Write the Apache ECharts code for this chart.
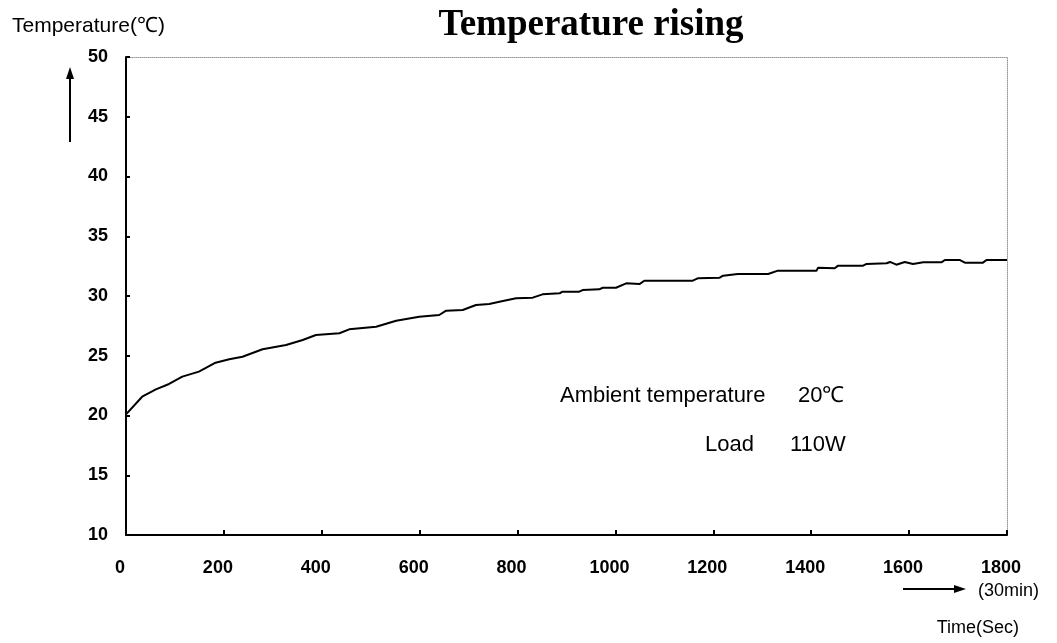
<!DOCTYPE html>
<html>
<head>
<meta charset="utf-8">
<script src="https://cdn.jsdelivr.net/npm/echarts@6/dist/echarts.min.js"></script>
<style>html,body{margin:0;padding:0;background:#fff}#c{width:1057px;height:643px}</style>
</head>
<body>
<div id="c"></div>
<script>
// Time (s)
var times = [0, 3, 33, 61, 88, 115, 149, 183, 211, 238, 279, 327, 361, 388, 436, 456, 511, 552, 599, 640, 654, 688, 715, 742, 770, 797, 831, 851, 886, 892, 926, 933, 967, 974, 1001, 1022, 1049, 1059, 1158, 1168, 1213, 1220, 1250, 1312, 1332, 1411, 1414, 1448, 1455, 1506, 1513, 1554, 1561, 1574, 1591, 1608, 1629, 1666, 1673, 1704, 1714, 1751, 1758, 1800];
// Temperature (°C)
var temps = [20.1, 20.18, 21.57, 22.19, 22.64, 23.25, 23.67, 24.42, 24.70, 24.92, 25.54, 25.90, 26.32, 26.74, 26.88, 27.21, 27.43, 27.93, 28.27, 28.41, 28.77, 28.83, 29.25, 29.33, 29.58, 29.81, 29.86, 30.14, 30.23, 30.36, 30.36, 30.50, 30.56, 30.69, 30.69, 31.06, 31.00, 31.28, 31.28, 31.48, 31.53, 31.70, 31.84, 31.84, 32.12, 32.12, 32.37, 32.32, 32.54, 32.54, 32.68, 32.74, 32.85, 32.62, 32.85, 32.68, 32.82, 32.82, 33.01, 33.01, 32.79, 32.79, 33.01, 33.01];
var titleText = 'Temperature rising';
var yName = 'Temperature(℃)';
var xName = 'Time(Sec)';
var xEndNote = '(30min)';
var noteLines = [['Ambient temperature', '20℃'], ['Load', '110W']];

var data = times.map(function (t, i) { return [t, temps[i]]; });
var sans = 'Liberation Sans, Arial, sans-serif';
var chart = echarts.init(document.getElementById('c'));
chart.setOption({
  animation: false,
  backgroundColor: '#fff',
  title: {
    text: titleText, left: 586, top: 2, textAlign: 'center',
    textStyle: { fontFamily: 'Liberation Serif, Times New Roman, serif', fontSize: 37, fontWeight: 'bold', color: '#000' }
  },
  grid: { left: 126, right: 50, top: 57, bottom: 108 },
  xAxis: [{
    type: 'value', min: 0, max: 1800, interval: 200,
    axisLine: { show: true, onZero: false, lineStyle: { color: '#000', width: 2 } },
    axisTick: { show: true, inside: true, length: 5, lineStyle: { color: '#000', width: 2 } },
    axisLabel: { color: '#000', fontSize: 18, fontWeight: 'bold', fontFamily: sans, margin: 24, padding: [0, 12, 0, 0],
      formatter: function (v) { return String(v); } },
    splitLine: { show: false }, z: 5
  }, {
    type: 'value', position: 'top', min: 0, max: 1800,
    axisLine: { show: true, onZero: false, lineStyle: { color: '#999', width: 1, type: 'dotted' } },
    axisTick: { show: false }, axisLabel: { show: false }, splitLine: { show: false }
  }],
  yAxis: [{
    type: 'value', min: 10, max: 50, interval: 5,
    axisLine: { show: true, onZero: false, lineStyle: { color: '#000', width: 2 } },
    axisTick: { show: true, inside: true, length: 4, lineStyle: { color: '#000', width: 2 } },
    axisLabel: { color: '#000', fontSize: 18, fontWeight: 'bold', fontFamily: sans, margin: 18 },
    splitLine: { show: false }, z: 5
  }, {
    type: 'value', position: 'right', min: 10, max: 50,
    axisLine: { show: true, onZero: false, lineStyle: { color: '#999', width: 1, type: 'dotted' } },
    axisTick: { show: false }, axisLabel: { show: false }, splitLine: { show: false }
  }],
  series: [{
    type: 'line', data: data, showSymbol: false, symbol: 'none',
    lineStyle: { color: '#000', width: 2 }, smooth: false
  }],
  graphic: [
    { type: 'text', left: 12, top: 16, style: { text: yName, fontSize: 21, fontFamily: sans, fill: '#000' } },
    { type: 'line', shape: { x1: 70, y1: 142, x2: 70, y2: 76 }, style: { stroke: '#000', lineWidth: 2 } },
    { type: 'polygon', shape: { points: [[70, 67], [66, 79], [74, 79]] }, style: { fill: '#000' } },
    { type: 'line', shape: { x1: 903, y1: 589, x2: 955, y2: 589 }, style: { stroke: '#000', lineWidth: 2 } },
    { type: 'polygon', shape: { points: [[966, 589], [954, 585], [954, 593]] }, style: { fill: '#000' } },
    { type: 'text', left: 978, top: 582, style: { text: xEndNote, fontSize: 18, fontFamily: sans, fill: '#000' } },
    { type: 'text', right: 38, top: 619, style: { text: xName, fontSize: 18, fontFamily: sans, fill: '#000' } },
    { type: 'text', left: 560, top: 385, style: { text: noteLines[0][0], fontSize: 22, fontFamily: sans, fill: '#000' } },
    { type: 'text', left: 798, top: 385, style: { text: noteLines[0][1], fontSize: 22, fontFamily: sans, fill: '#000' } },
    { type: 'text', left: 705, top: 434, style: { text: noteLines[1][0], fontSize: 22, fontFamily: sans, fill: '#000' } },
    { type: 'text', left: 790, top: 434, style: { text: noteLines[1][1], fontSize: 22, fontFamily: sans, fill: '#000' } }
  ]
});
</script>
</body>
</html>
